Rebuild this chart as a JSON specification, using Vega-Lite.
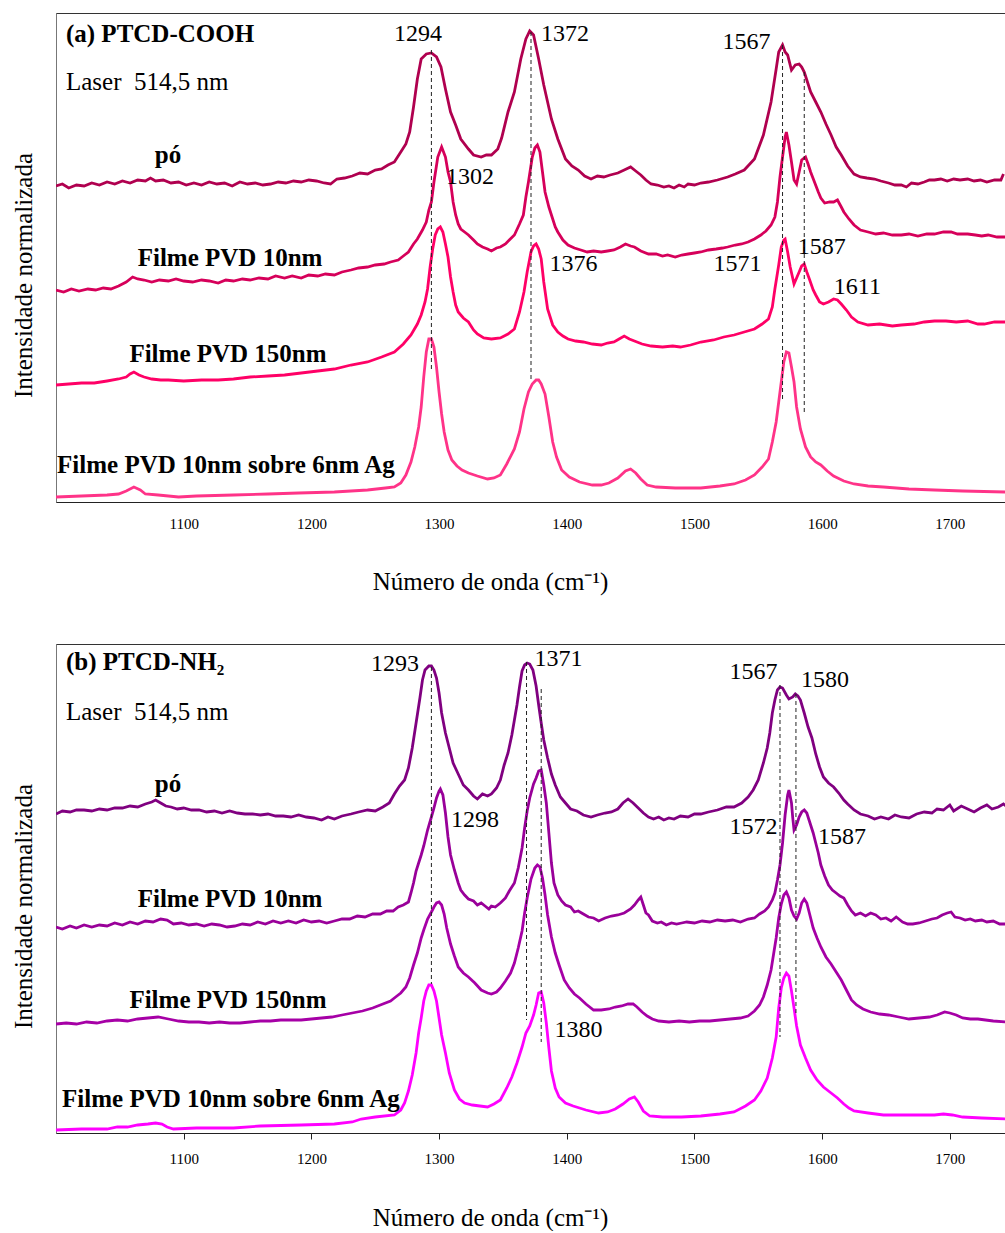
{
"$schema":"https://vega.github.io/schema/vega-lite/v6.json",
"padding":{"left":10,"top":12,"right":0,"bottom":0},
"background":"white",
"config":{"view":{"stroke":"#333","strokeWidth":1},"text":{"font":"Liberation Serif","color":"black"}},
"resolve":{"scale":{"color":"independent","x":"independent","y":"independent"}},
"spacing":48,
"datasets":{
"a":[
{"s":"pó","w":1000,"i":316},{"s":"pó","w":1005,"i":318},{"s":"pó","w":1010,"i":314},{"s":"pó","w":1016,"i":317},{"s":"pó","w":1022,"i":316},{"s":"pó","w":1028,"i":319},{"s":"pó","w":1034,"i":317},{"s":"pó","w":1040,"i":320},{"s":"pó","w":1046,"i":318},{"s":"pó","w":1052,"i":321},{"s":"pó","w":1058,"i":319},{"s":"pó","w":1064,"i":322},{"s":"pó","w":1070,"i":321},{"s":"pó","w":1074,"i":324},{"s":"pó","w":1078,"i":321},{"s":"pó","w":1084,"i":322},{"s":"pó","w":1090,"i":319},{"s":"pó","w":1096,"i":320},{"s":"pó","w":1102,"i":317},{"s":"pó","w":1108,"i":319},{"s":"pó","w":1114,"i":317},{"s":"pó","w":1120,"i":320},{"s":"pó","w":1126,"i":318},{"s":"pó","w":1132,"i":319},{"s":"pó","w":1138,"i":316},{"s":"pó","w":1144,"i":320},{"s":"pó","w":1150,"i":318},{"s":"pó","w":1156,"i":319},{"s":"pó","w":1162,"i":317},{"s":"pó","w":1168,"i":318},{"s":"pó","w":1174,"i":320},{"s":"pó","w":1180,"i":319},{"s":"pó","w":1186,"i":321},{"s":"pó","w":1192,"i":320},{"s":"pó","w":1198,"i":322},{"s":"pó","w":1204,"i":321},{"s":"pó","w":1210,"i":319},{"s":"pó","w":1215,"i":318},{"s":"pó","w":1220,"i":323},{"s":"pó","w":1226,"i":324},{"s":"pó","w":1232,"i":326},{"s":"pó","w":1238,"i":329},{"s":"pó","w":1244,"i":328},{"s":"pó","w":1250,"i":332},{"s":"pó","w":1255,"i":333},{"s":"pó","w":1260,"i":337},{"s":"pó","w":1265,"i":340},{"s":"pó","w":1270,"i":350},{"s":"pó","w":1274,"i":358},{"s":"pó","w":1277,"i":370},{"s":"pó","w":1280,"i":395},{"s":"pó","w":1283,"i":423},{"s":"pó","w":1286,"i":443},{"s":"pó","w":1290,"i":448},{"s":"pó","w":1294,"i":449},{"s":"pó","w":1298,"i":445},{"s":"pó","w":1301.5,"i":435},{"s":"pó","w":1305,"i":413},{"s":"pó","w":1309,"i":390},{"s":"pó","w":1313,"i":377},{"s":"pó","w":1317,"i":363},{"s":"pó","w":1323,"i":353},{"s":"pó","w":1327,"i":347},{"s":"pó","w":1333,"i":345},{"s":"pó","w":1337,"i":347},{"s":"pó","w":1341,"i":347},{"s":"pó","w":1346,"i":353},{"s":"pó","w":1349,"i":364},{"s":"pó","w":1354,"i":390},{"s":"pó","w":1359,"i":410},{"s":"pó","w":1364,"i":443},{"s":"pó","w":1368,"i":463},{"s":"pó","w":1371,"i":471},{"s":"pó","w":1374,"i":467},{"s":"pó","w":1378,"i":443},{"s":"pó","w":1382,"i":417},{"s":"pó","w":1388,"i":383},{"s":"pó","w":1393,"i":363},{"s":"pó","w":1399,"i":343},{"s":"pó","w":1404,"i":336},{"s":"pó","w":1409,"i":332},{"s":"pó","w":1414,"i":326},{"s":"pó","w":1419,"i":323},{"s":"pó","w":1424,"i":326},{"s":"pó","w":1429,"i":325},{"s":"pó","w":1434,"i":327},{"s":"pó","w":1440,"i":329},{"s":"pó","w":1445,"i":332},{"s":"pó","w":1450,"i":335},{"s":"pó","w":1454,"i":331},{"s":"pó","w":1458,"i":327},{"s":"pó","w":1462,"i":322},{"s":"pó","w":1466,"i":318},{"s":"pó","w":1471,"i":317},{"s":"pó","w":1476,"i":315},{"s":"pó","w":1480,"i":316},{"s":"pó","w":1484,"i":314},{"s":"pó","w":1488,"i":317},{"s":"pó","w":1492,"i":315},{"s":"pó","w":1495,"i":318},{"s":"pó","w":1500,"i":317},{"s":"pó","w":1505,"i":319},{"s":"pó","w":1511,"i":320},{"s":"pó","w":1518,"i":322},{"s":"pó","w":1526,"i":325},{"s":"pó","w":1532,"i":328},{"s":"pó","w":1539,"i":332},{"s":"pó","w":1547,"i":343},{"s":"pó","w":1554,"i":367},{"s":"pó","w":1560,"i":400},{"s":"pó","w":1564,"i":433},{"s":"pó","w":1566,"i":450},{"s":"pó","w":1569,"i":457},{"s":"pó","w":1571,"i":450},{"s":"pó","w":1573,"i":447},{"s":"pó","w":1576,"i":432},{"s":"pó","w":1579,"i":437},{"s":"pó","w":1582,"i":438},{"s":"pó","w":1584,"i":435},{"s":"pó","w":1586,"i":430},{"s":"pó","w":1588,"i":422},{"s":"pó","w":1591,"i":410},{"s":"pó","w":1595,"i":400},{"s":"pó","w":1599,"i":390},{"s":"pó","w":1603,"i":378},{"s":"pó","w":1607,"i":367},{"s":"pó","w":1611,"i":355},{"s":"pó","w":1615,"i":347},{"s":"pó","w":1620,"i":336},{"s":"pó","w":1625,"i":328},{"s":"pó","w":1630,"i":325},{"s":"pó","w":1635,"i":324},{"s":"pó","w":1641,"i":323},{"s":"pó","w":1646,"i":321},{"s":"pó","w":1652,"i":319},{"s":"pó","w":1657,"i":317},{"s":"pó","w":1662,"i":317},{"s":"pó","w":1666,"i":315},{"s":"pó","w":1670,"i":319},{"s":"pó","w":1675,"i":318},{"s":"pó","w":1680,"i":320},{"s":"pó","w":1684,"i":322},{"s":"pó","w":1688,"i":322},{"s":"pó","w":1693,"i":323},{"s":"pó","w":1698,"i":321},{"s":"pó","w":1703,"i":323},{"s":"pó","w":1708,"i":322},{"s":"pó","w":1714,"i":323},{"s":"pó","w":1719,"i":321},{"s":"pó","w":1724,"i":322},{"s":"pó","w":1729,"i":320},{"s":"pó","w":1735,"i":322},{"s":"pó","w":1740,"i":322},{"s":"pó","w":1742,"i":328},
{"s":"10nm","w":1000,"i":212},{"s":"10nm","w":1006,"i":210},{"s":"10nm","w":1012,"i":213},{"s":"10nm","w":1018,"i":211},{"s":"10nm","w":1025,"i":213},{"s":"10nm","w":1031,"i":212},{"s":"10nm","w":1037,"i":214},{"s":"10nm","w":1043,"i":213},{"s":"10nm","w":1049,"i":216},{"s":"10nm","w":1055,"i":220},{"s":"10nm","w":1060,"i":225},{"s":"10nm","w":1064,"i":223},{"s":"10nm","w":1069,"i":222},{"s":"10nm","w":1075,"i":220},{"s":"10nm","w":1081,"i":222},{"s":"10nm","w":1088,"i":221},{"s":"10nm","w":1094,"i":223},{"s":"10nm","w":1100,"i":221},{"s":"10nm","w":1107,"i":220},{"s":"10nm","w":1114,"i":222},{"s":"10nm","w":1120,"i":221},{"s":"10nm","w":1127,"i":219},{"s":"10nm","w":1133,"i":222},{"s":"10nm","w":1139,"i":221},{"s":"10nm","w":1146,"i":223},{"s":"10nm","w":1152,"i":222},{"s":"10nm","w":1159,"i":224},{"s":"10nm","w":1166,"i":223},{"s":"10nm","w":1172,"i":226},{"s":"10nm","w":1179,"i":224},{"s":"10nm","w":1185,"i":226},{"s":"10nm","w":1192,"i":224},{"s":"10nm","w":1198,"i":227},{"s":"10nm","w":1205,"i":226},{"s":"10nm","w":1211,"i":228},{"s":"10nm","w":1218,"i":227},{"s":"10nm","w":1224,"i":230},{"s":"10nm","w":1231,"i":232},{"s":"10nm","w":1237,"i":234},{"s":"10nm","w":1244,"i":235},{"s":"10nm","w":1250,"i":237},{"s":"10nm","w":1257,"i":238},{"s":"10nm","w":1262,"i":240},{"s":"10nm","w":1268,"i":242},{"s":"10nm","w":1272,"i":246},{"s":"10nm","w":1276,"i":250},{"s":"10nm","w":1280,"i":258},{"s":"10nm","w":1283,"i":263},{"s":"10nm","w":1287,"i":272},{"s":"10nm","w":1290,"i":280},{"s":"10nm","w":1292,"i":292},{"s":"10nm","w":1294,"i":300},{"s":"10nm","w":1296,"i":320},{"s":"10nm","w":1299,"i":345},{"s":"10nm","w":1302,"i":355},{"s":"10nm","w":1305,"i":345},{"s":"10nm","w":1307,"i":330},{"s":"10nm","w":1309,"i":320},{"s":"10nm","w":1311,"i":300},{"s":"10nm","w":1313,"i":287},{"s":"10nm","w":1315,"i":278},{"s":"10nm","w":1317,"i":273},{"s":"10nm","w":1320,"i":270},{"s":"10nm","w":1323,"i":267},{"s":"10nm","w":1327,"i":262},{"s":"10nm","w":1330,"i":258},{"s":"10nm","w":1334,"i":255},{"s":"10nm","w":1338,"i":253},{"s":"10nm","w":1341,"i":251},{"s":"10nm","w":1345,"i":254},{"s":"10nm","w":1348,"i":255},{"s":"10nm","w":1352,"i":258},{"s":"10nm","w":1355,"i":262},{"s":"10nm","w":1359,"i":267},{"s":"10nm","w":1363,"i":278},{"s":"10nm","w":1366,"i":287},{"s":"10nm","w":1368,"i":305},{"s":"10nm","w":1370,"i":320},{"s":"10nm","w":1373,"i":345},{"s":"10nm","w":1375,"i":354},{"s":"10nm","w":1377,"i":357},{"s":"10nm","w":1379,"i":350},{"s":"10nm","w":1381,"i":330},{"s":"10nm","w":1383,"i":310},{"s":"10nm","w":1386,"i":295},{"s":"10nm","w":1388,"i":287},{"s":"10nm","w":1391,"i":275},{"s":"10nm","w":1393,"i":270},{"s":"10nm","w":1397,"i":262},{"s":"10nm","w":1401,"i":257},{"s":"10nm","w":1406,"i":254},{"s":"10nm","w":1411,"i":252},{"s":"10nm","w":1416,"i":250},{"s":"10nm","w":1421,"i":251},{"s":"10nm","w":1427,"i":250},{"s":"10nm","w":1432,"i":251},{"s":"10nm","w":1437,"i":252},{"s":"10nm","w":1442,"i":255},{"s":"10nm","w":1446,"i":258},{"s":"10nm","w":1450,"i":256},{"s":"10nm","w":1453,"i":255},{"s":"10nm","w":1458,"i":251},{"s":"10nm","w":1464,"i":248},{"s":"10nm","w":1470,"i":248},{"s":"10nm","w":1475,"i":246},{"s":"10nm","w":1479,"i":247},{"s":"10nm","w":1485,"i":245},{"s":"10nm","w":1490,"i":247},{"s":"10nm","w":1495,"i":248},{"s":"10nm","w":1500,"i":249},{"s":"10nm","w":1505,"i":250},{"s":"10nm","w":1511,"i":252},{"s":"10nm","w":1517,"i":253},{"s":"10nm","w":1522,"i":254},{"s":"10nm","w":1526,"i":255},{"s":"10nm","w":1532,"i":257},{"s":"10nm","w":1537,"i":258},{"s":"10nm","w":1542,"i":260},{"s":"10nm","w":1547,"i":263},{"s":"10nm","w":1552,"i":267},{"s":"10nm","w":1556,"i":271},{"s":"10nm","w":1560,"i":277},{"s":"10nm","w":1563,"i":285},{"s":"10nm","w":1565,"i":300},{"s":"10nm","w":1567,"i":325},{"s":"10nm","w":1569,"i":345},{"s":"10nm","w":1571,"i":365},{"s":"10nm","w":1572,"i":370},{"s":"10nm","w":1574,"i":357},{"s":"10nm","w":1576,"i":340},{"s":"10nm","w":1578,"i":322},{"s":"10nm","w":1580,"i":318},{"s":"10nm","w":1582,"i":330},{"s":"10nm","w":1584,"i":342},{"s":"10nm","w":1587,"i":345},{"s":"10nm","w":1589,"i":338},{"s":"10nm","w":1591,"i":330},{"s":"10nm","w":1594,"i":320},{"s":"10nm","w":1597,"i":310},{"s":"10nm","w":1599,"i":304},{"s":"10nm","w":1602,"i":299},{"s":"10nm","w":1606,"i":300},{"s":"10nm","w":1609,"i":300},{"s":"10nm","w":1612,"i":302},{"s":"10nm","w":1615,"i":295},{"s":"10nm","w":1617,"i":290},{"s":"10nm","w":1621,"i":283},{"s":"10nm","w":1625,"i":277},{"s":"10nm","w":1630,"i":272},{"s":"10nm","w":1636,"i":270},{"s":"10nm","w":1642,"i":268},{"s":"10nm","w":1648,"i":269},{"s":"10nm","w":1655,"i":267},{"s":"10nm","w":1662,"i":267},{"s":"10nm","w":1668,"i":268},{"s":"10nm","w":1675,"i":266},{"s":"10nm","w":1682,"i":268},{"s":"10nm","w":1688,"i":268},{"s":"10nm","w":1695,"i":270},{"s":"10nm","w":1701,"i":270},{"s":"10nm","w":1706,"i":268},{"s":"10nm","w":1714,"i":268},{"s":"10nm","w":1720,"i":267},{"s":"10nm","w":1725,"i":266},{"s":"10nm","w":1730,"i":267},{"s":"10nm","w":1737,"i":265},{"s":"10nm","w":1744,"i":265},
{"s":"150nm","w":1000,"i":117},{"s":"150nm","w":1010,"i":118},{"s":"150nm","w":1020,"i":119},{"s":"150nm","w":1030,"i":119},{"s":"150nm","w":1040,"i":121},{"s":"150nm","w":1049,"i":123},{"s":"150nm","w":1055,"i":125},{"s":"150nm","w":1058,"i":128},{"s":"150nm","w":1061,"i":130},{"s":"150nm","w":1065,"i":127},{"s":"150nm","w":1069,"i":125},{"s":"150nm","w":1075,"i":123},{"s":"150nm","w":1082,"i":122},{"s":"150nm","w":1088,"i":122},{"s":"150nm","w":1100,"i":121},{"s":"150nm","w":1114,"i":122},{"s":"150nm","w":1127,"i":122},{"s":"150nm","w":1139,"i":123},{"s":"150nm","w":1152,"i":125},{"s":"150nm","w":1166,"i":126},{"s":"150nm","w":1179,"i":127},{"s":"150nm","w":1192,"i":129},{"s":"150nm","w":1205,"i":131},{"s":"150nm","w":1218,"i":133},{"s":"150nm","w":1231,"i":137},{"s":"150nm","w":1244,"i":140},{"s":"150nm","w":1255,"i":145},{"s":"150nm","w":1265,"i":150},{"s":"150nm","w":1272,"i":158},{"s":"150nm","w":1278,"i":167},{"s":"150nm","w":1283,"i":178},{"s":"150nm","w":1286,"i":187},{"s":"150nm","w":1289,"i":200},{"s":"150nm","w":1291,"i":213},{"s":"150nm","w":1293,"i":235},{"s":"150nm","w":1295,"i":253},{"s":"150nm","w":1297,"i":267},{"s":"150nm","w":1299,"i":273},{"s":"150nm","w":1301,"i":275},{"s":"150nm","w":1303,"i":270},{"s":"150nm","w":1305,"i":258},{"s":"150nm","w":1307,"i":245},{"s":"150nm","w":1309,"i":225},{"s":"150nm","w":1311,"i":210},{"s":"150nm","w":1313,"i":197},{"s":"150nm","w":1315,"i":190},{"s":"150nm","w":1319,"i":184},{"s":"150nm","w":1323,"i":180},{"s":"150nm","w":1327,"i":172},{"s":"150nm","w":1330,"i":168},{"s":"150nm","w":1335,"i":164},{"s":"150nm","w":1341,"i":163},{"s":"150nm","w":1348,"i":164},{"s":"150nm","w":1354,"i":168},{"s":"150nm","w":1359,"i":173},{"s":"150nm","w":1363,"i":190},{"s":"150nm","w":1366.5,"i":210},{"s":"150nm","w":1369,"i":230},{"s":"150nm","w":1372,"i":250},{"s":"150nm","w":1374,"i":256},{"s":"150nm","w":1376,"i":258},{"s":"150nm","w":1378,"i":253},{"s":"150nm","w":1380,"i":243},{"s":"150nm","w":1382,"i":220},{"s":"150nm","w":1385,"i":193},{"s":"150nm","w":1389,"i":177},{"s":"150nm","w":1393,"i":170},{"s":"150nm","w":1397,"i":166},{"s":"150nm","w":1401,"i":163},{"s":"150nm","w":1407,"i":161},{"s":"150nm","w":1413,"i":160},{"s":"150nm","w":1420,"i":158},{"s":"150nm","w":1427,"i":157},{"s":"150nm","w":1432,"i":159},{"s":"150nm","w":1437,"i":160},{"s":"150nm","w":1441,"i":163},{"s":"150nm","w":1445,"i":166},{"s":"150nm","w":1449,"i":163},{"s":"150nm","w":1453,"i":161},{"s":"150nm","w":1459,"i":158},{"s":"150nm","w":1466,"i":156},{"s":"150nm","w":1475,"i":155},{"s":"150nm","w":1483,"i":156},{"s":"150nm","w":1489,"i":155},{"s":"150nm","w":1497,"i":157},{"s":"150nm","w":1505,"i":160},{"s":"150nm","w":1515,"i":162},{"s":"150nm","w":1523,"i":165},{"s":"150nm","w":1531,"i":167},{"s":"150nm","w":1539,"i":170},{"s":"150nm","w":1547,"i":173},{"s":"150nm","w":1553,"i":178},{"s":"150nm","w":1558,"i":183},{"s":"150nm","w":1561,"i":195},{"s":"150nm","w":1563,"i":213},{"s":"150nm","w":1566,"i":237},{"s":"150nm","w":1568,"i":255},{"s":"150nm","w":1570,"i":262},{"s":"150nm","w":1571,"i":263},{"s":"150nm","w":1573,"i":250},{"s":"150nm","w":1575,"i":235},{"s":"150nm","w":1578,"i":218},{"s":"150nm","w":1580,"i":224},{"s":"150nm","w":1582,"i":230},{"s":"150nm","w":1584,"i":236},{"s":"150nm","w":1586,"i":238},{"s":"150nm","w":1588,"i":230},{"s":"150nm","w":1590,"i":223},{"s":"150nm","w":1593,"i":212},{"s":"150nm","w":1595,"i":207},{"s":"150nm","w":1598,"i":200},{"s":"150nm","w":1601,"i":198},{"s":"150nm","w":1605,"i":200},{"s":"150nm","w":1609,"i":203},{"s":"150nm","w":1612,"i":202},{"s":"150nm","w":1615,"i":198},{"s":"150nm","w":1619,"i":192},{"s":"150nm","w":1623,"i":185},{"s":"150nm","w":1628,"i":180},{"s":"150nm","w":1636,"i":177},{"s":"150nm","w":1645,"i":178},{"s":"150nm","w":1655,"i":176},{"s":"150nm","w":1662,"i":177},{"s":"150nm","w":1672,"i":178},{"s":"150nm","w":1680,"i":180},{"s":"150nm","w":1688,"i":181},{"s":"150nm","w":1697,"i":181},{"s":"150nm","w":1705,"i":180},{"s":"150nm","w":1714,"i":181},{"s":"150nm","w":1722,"i":178},{"s":"150nm","w":1727,"i":178},{"s":"150nm","w":1735,"i":180},{"s":"150nm","w":1744,"i":180},
{"s":"Ag","w":1000,"i":5},{"s":"Ag","w":1020,"i":6},{"s":"Ag","w":1040,"i":7},{"s":"Ag","w":1049,"i":8},{"s":"Ag","w":1055,"i":11},{"s":"Ag","w":1061,"i":15},{"s":"Ag","w":1066,"i":12},{"s":"Ag","w":1070,"i":8},{"s":"Ag","w":1080,"i":7},{"s":"Ag","w":1096,"i":5},{"s":"Ag","w":1110,"i":6},{"s":"Ag","w":1139,"i":7},{"s":"Ag","w":1166,"i":8},{"s":"Ag","w":1190,"i":9},{"s":"Ag","w":1218,"i":10},{"s":"Ag","w":1244,"i":12},{"s":"Ag","w":1258,"i":14},{"s":"Ag","w":1265,"i":15},{"s":"Ag","w":1270,"i":19},{"s":"Ag","w":1274,"i":27},{"s":"Ag","w":1278,"i":40},{"s":"Ag","w":1281,"i":55},{"s":"Ag","w":1284,"i":75},{"s":"Ag","w":1286,"i":95},{"s":"Ag","w":1288,"i":125},{"s":"Ag","w":1290,"i":150},{"s":"Ag","w":1292,"i":163},{"s":"Ag","w":1294,"i":163},{"s":"Ag","w":1296,"i":155},{"s":"Ag","w":1298,"i":135},{"s":"Ag","w":1300,"i":110},{"s":"Ag","w":1302,"i":88},{"s":"Ag","w":1304,"i":70},{"s":"Ag","w":1307,"i":52},{"s":"Ag","w":1310,"i":42},{"s":"Ag","w":1314,"i":36},{"s":"Ag","w":1318,"i":32},{"s":"Ag","w":1323,"i":29},{"s":"Ag","w":1330,"i":26},{"s":"Ag","w":1338,"i":23},{"s":"Ag","w":1343,"i":24},{"s":"Ag","w":1348,"i":27},{"s":"Ag","w":1353,"i":38},{"s":"Ag","w":1359,"i":53},{"s":"Ag","w":1363,"i":70},{"s":"Ag","w":1366.5,"i":93},{"s":"Ag","w":1370,"i":110},{"s":"Ag","w":1373,"i":118},{"s":"Ag","w":1376,"i":122},{"s":"Ag","w":1378,"i":122},{"s":"Ag","w":1380,"i":118},{"s":"Ag","w":1383,"i":108},{"s":"Ag","w":1386,"i":85},{"s":"Ag","w":1389,"i":60},{"s":"Ag","w":1392,"i":45},{"s":"Ag","w":1396,"i":32},{"s":"Ag","w":1402,"i":25},{"s":"Ag","w":1410,"i":20},{"s":"Ag","w":1420,"i":17},{"s":"Ag","w":1427,"i":17},{"s":"Ag","w":1433,"i":19},{"s":"Ag","w":1440,"i":24},{"s":"Ag","w":1446,"i":31},{"s":"Ag","w":1450,"i":33},{"s":"Ag","w":1454,"i":29},{"s":"Ag","w":1458,"i":23},{"s":"Ag","w":1463,"i":17},{"s":"Ag","w":1470,"i":15},{"s":"Ag","w":1485,"i":14},{"s":"Ag","w":1505,"i":14},{"s":"Ag","w":1520,"i":16},{"s":"Ag","w":1531,"i":18},{"s":"Ag","w":1540,"i":22},{"s":"Ag","w":1547,"i":27},{"s":"Ag","w":1553,"i":35},{"s":"Ag","w":1558,"i":43},{"s":"Ag","w":1561,"i":60},{"s":"Ag","w":1564,"i":80},{"s":"Ag","w":1566,"i":100},{"s":"Ag","w":1568,"i":120},{"s":"Ag","w":1570,"i":140},{"s":"Ag","w":1572,"i":150},{"s":"Ag","w":1574,"i":149},{"s":"Ag","w":1576,"i":135},{"s":"Ag","w":1578,"i":120},{"s":"Ag","w":1580,"i":95},{"s":"Ag","w":1583,"i":73},{"s":"Ag","w":1587,"i":55},{"s":"Ag","w":1591,"i":45},{"s":"Ag","w":1595,"i":40},{"s":"Ag","w":1599,"i":37},{"s":"Ag","w":1604,"i":31},{"s":"Ag","w":1609,"i":26},{"s":"Ag","w":1617,"i":21},{"s":"Ag","w":1625,"i":18},{"s":"Ag","w":1636,"i":16},{"s":"Ag","w":1648,"i":15},{"s":"Ag","w":1668,"i":13},{"s":"Ag","w":1688,"i":12},{"s":"Ag","w":1710,"i":11},{"s":"Ag","w":1744,"i":10}
],
"b":[
{"s":"pó","w":1000,"i":319},{"s":"pó","w":1005,"i":322},{"s":"pó","w":1011,"i":321},{"s":"pó","w":1016,"i":323},{"s":"pó","w":1022,"i":323},{"s":"pó","w":1028,"i":322},{"s":"pó","w":1034,"i":324},{"s":"pó","w":1040,"i":323},{"s":"pó","w":1046,"i":325},{"s":"pó","w":1052,"i":325},{"s":"pó","w":1058,"i":327},{"s":"pó","w":1064,"i":326},{"s":"pó","w":1070,"i":329},{"s":"pó","w":1075,"i":331},{"s":"pó","w":1078,"i":333},{"s":"pó","w":1082,"i":330},{"s":"pó","w":1086,"i":327},{"s":"pó","w":1090,"i":326},{"s":"pó","w":1095,"i":324},{"s":"pó","w":1100,"i":325},{"s":"pó","w":1106,"i":323},{"s":"pó","w":1112,"i":323},{"s":"pó","w":1118,"i":321},{"s":"pó","w":1124,"i":322},{"s":"pó","w":1130,"i":320},{"s":"pó","w":1136,"i":322},{"s":"pó","w":1142,"i":320},{"s":"pó","w":1148,"i":319},{"s":"pó","w":1154,"i":319},{"s":"pó","w":1160,"i":318},{"s":"pó","w":1166,"i":319},{"s":"pó","w":1172,"i":317},{"s":"pó","w":1178,"i":317},{"s":"pó","w":1184,"i":316},{"s":"pó","w":1190,"i":318},{"s":"pó","w":1196,"i":316},{"s":"pó","w":1202,"i":315},{"s":"pó","w":1208,"i":313},{"s":"pó","w":1213,"i":316},{"s":"pó","w":1218,"i":314},{"s":"pó","w":1224,"i":317},{"s":"pó","w":1231,"i":319},{"s":"pó","w":1237,"i":321},{"s":"pó","w":1244,"i":323},{"s":"pó","w":1250,"i":322},{"s":"pó","w":1256,"i":326},{"s":"pó","w":1261,"i":330},{"s":"pó","w":1265,"i":339},{"s":"pó","w":1269,"i":347},{"s":"pó","w":1273,"i":353},{"s":"pó","w":1276,"i":365},{"s":"pó","w":1279,"i":385},{"s":"pó","w":1282,"i":410},{"s":"pó","w":1285,"i":435},{"s":"pó","w":1287,"i":453},{"s":"pó","w":1289,"i":463},{"s":"pó","w":1292,"i":467},{"s":"pó","w":1294,"i":467},{"s":"pó","w":1296,"i":463},{"s":"pó","w":1298,"i":455},{"s":"pó","w":1300,"i":440},{"s":"pó","w":1302,"i":420},{"s":"pó","w":1305,"i":400},{"s":"pó","w":1308,"i":385},{"s":"pó","w":1311,"i":370},{"s":"pó","w":1315,"i":359},{"s":"pó","w":1319,"i":348},{"s":"pó","w":1323,"i":343},{"s":"pó","w":1327,"i":337},{"s":"pó","w":1330,"i":334},{"s":"pó","w":1334,"i":339},{"s":"pó","w":1338,"i":337},{"s":"pó","w":1341,"i":339},{"s":"pó","w":1345,"i":345},{"s":"pó","w":1348,"i":353},{"s":"pó","w":1351,"i":368},{"s":"pó","w":1354,"i":380},{"s":"pó","w":1357,"i":398},{"s":"pó","w":1359,"i":413},{"s":"pó","w":1361,"i":428},{"s":"pó","w":1363,"i":446},{"s":"pó","w":1365,"i":462},{"s":"pó","w":1367,"i":468},{"s":"pó","w":1369,"i":470},{"s":"pó","w":1371,"i":469},{"s":"pó","w":1373.5,"i":463},{"s":"pó","w":1376,"i":447},{"s":"pó","w":1378,"i":428},{"s":"pó","w":1380,"i":410},{"s":"pó","w":1382,"i":393},{"s":"pó","w":1385,"i":375},{"s":"pó","w":1388,"i":359},{"s":"pó","w":1391,"i":348},{"s":"pó","w":1395,"i":336},{"s":"pó","w":1399,"i":330},{"s":"pó","w":1403,"i":324},{"s":"pó","w":1408,"i":322},{"s":"pó","w":1413,"i":318},{"s":"pó","w":1419,"i":316},{"s":"pó","w":1424,"i":318},{"s":"pó","w":1430,"i":320},{"s":"pó","w":1435,"i":321},{"s":"pó","w":1440,"i":324},{"s":"pó","w":1444,"i":330},{"s":"pó","w":1448,"i":334},{"s":"pó","w":1452,"i":330},{"s":"pó","w":1456,"i":325},{"s":"pó","w":1460,"i":320},{"s":"pó","w":1464,"i":316},{"s":"pó","w":1468,"i":314},{"s":"pó","w":1472,"i":316},{"s":"pó","w":1476,"i":313},{"s":"pó","w":1480,"i":315},{"s":"pó","w":1484,"i":314},{"s":"pó","w":1489,"i":317},{"s":"pó","w":1495,"i":316},{"s":"pó","w":1500,"i":319},{"s":"pó","w":1505,"i":319},{"s":"pó","w":1511,"i":321},{"s":"pó","w":1518,"i":323},{"s":"pó","w":1525,"i":326},{"s":"pó","w":1531,"i":326},{"s":"pó","w":1537,"i":330},{"s":"pó","w":1542,"i":336},{"s":"pó","w":1546,"i":343},{"s":"pó","w":1550,"i":353},{"s":"pó","w":1554,"i":370},{"s":"pó","w":1557,"i":385},{"s":"pó","w":1559,"i":400},{"s":"pó","w":1561,"i":420},{"s":"pó","w":1563,"i":433},{"s":"pó","w":1565,"i":443},{"s":"pó","w":1567,"i":446},{"s":"pó","w":1569,"i":445},{"s":"pó","w":1572,"i":438},{"s":"pó","w":1574,"i":434},{"s":"pó","w":1577,"i":436},{"s":"pó","w":1579,"i":439},{"s":"pó","w":1581,"i":437},{"s":"pó","w":1583,"i":433},{"s":"pó","w":1586,"i":420},{"s":"pó","w":1589,"i":406},{"s":"pó","w":1592,"i":395},{"s":"pó","w":1595,"i":379},{"s":"pó","w":1598,"i":366},{"s":"pó","w":1601,"i":356},{"s":"pó","w":1605,"i":350},{"s":"pó","w":1609,"i":346},{"s":"pó","w":1613,"i":340},{"s":"pó","w":1617,"i":333},{"s":"pó","w":1620,"i":329},{"s":"pó","w":1625,"i":323},{"s":"pó","w":1630,"i":319},{"s":"pó","w":1636,"i":317},{"s":"pó","w":1641,"i":314},{"s":"pó","w":1646,"i":316},{"s":"pó","w":1652,"i":314},{"s":"pó","w":1657,"i":318},{"s":"pó","w":1662,"i":316},{"s":"pó","w":1668,"i":315},{"s":"pó","w":1674,"i":319},{"s":"pó","w":1680,"i":321},{"s":"pó","w":1686,"i":320},{"s":"pó","w":1690,"i":324},{"s":"pó","w":1695,"i":323},{"s":"pó","w":1700,"i":328},{"s":"pó","w":1703,"i":322},{"s":"pó","w":1709,"i":327},{"s":"pó","w":1714,"i":324},{"s":"pó","w":1719,"i":321},{"s":"pó","w":1724,"i":325},{"s":"pó","w":1729,"i":328},{"s":"pó","w":1733,"i":324},{"s":"pó","w":1738,"i":326},{"s":"pó","w":1742,"i":329},{"s":"pó","w":1744,"i":327},
{"s":"10nm","w":1000,"i":206},{"s":"10nm","w":1005,"i":204},{"s":"10nm","w":1011,"i":207},{"s":"10nm","w":1016,"i":205},{"s":"10nm","w":1022,"i":208},{"s":"10nm","w":1028,"i":206},{"s":"10nm","w":1034,"i":208},{"s":"10nm","w":1040,"i":207},{"s":"10nm","w":1046,"i":210},{"s":"10nm","w":1052,"i":208},{"s":"10nm","w":1058,"i":211},{"s":"10nm","w":1064,"i":209},{"s":"10nm","w":1070,"i":212},{"s":"10nm","w":1076,"i":211},{"s":"10nm","w":1082,"i":214},{"s":"10nm","w":1087,"i":213},{"s":"10nm","w":1092,"i":209},{"s":"10nm","w":1098,"i":210},{"s":"10nm","w":1104,"i":208},{"s":"10nm","w":1110,"i":209},{"s":"10nm","w":1116,"i":207},{"s":"10nm","w":1122,"i":209},{"s":"10nm","w":1128,"i":208},{"s":"10nm","w":1134,"i":206},{"s":"10nm","w":1140,"i":207},{"s":"10nm","w":1146,"i":209},{"s":"10nm","w":1152,"i":208},{"s":"10nm","w":1158,"i":211},{"s":"10nm","w":1164,"i":209},{"s":"10nm","w":1170,"i":212},{"s":"10nm","w":1176,"i":210},{"s":"10nm","w":1182,"i":212},{"s":"10nm","w":1188,"i":210},{"s":"10nm","w":1194,"i":213},{"s":"10nm","w":1200,"i":211},{"s":"10nm","w":1206,"i":212},{"s":"10nm","w":1212,"i":210},{"s":"10nm","w":1218,"i":212},{"s":"10nm","w":1224,"i":214},{"s":"10nm","w":1230,"i":214},{"s":"10nm","w":1236,"i":217},{"s":"10nm","w":1242,"i":216},{"s":"10nm","w":1248,"i":219},{"s":"10nm","w":1254,"i":219},{"s":"10nm","w":1259,"i":222},{"s":"10nm","w":1264,"i":222},{"s":"10nm","w":1268,"i":226},{"s":"10nm","w":1272,"i":228},{"s":"10nm","w":1276,"i":231},{"s":"10nm","w":1278,"i":240},{"s":"10nm","w":1280,"i":250},{"s":"10nm","w":1282,"i":262},{"s":"10nm","w":1284,"i":270},{"s":"10nm","w":1286,"i":278},{"s":"10nm","w":1288,"i":287},{"s":"10nm","w":1291,"i":303},{"s":"10nm","w":1294,"i":316},{"s":"10nm","w":1296,"i":325},{"s":"10nm","w":1298,"i":335},{"s":"10nm","w":1300,"i":342},{"s":"10nm","w":1301,"i":344},{"s":"10nm","w":1303,"i":338},{"s":"10nm","w":1305,"i":320},{"s":"10nm","w":1307,"i":296},{"s":"10nm","w":1309,"i":278},{"s":"10nm","w":1312,"i":263},{"s":"10nm","w":1315,"i":250},{"s":"10nm","w":1317,"i":243},{"s":"10nm","w":1320,"i":238},{"s":"10nm","w":1323,"i":234},{"s":"10nm","w":1327,"i":232},{"s":"10nm","w":1330,"i":228},{"s":"10nm","w":1333,"i":230},{"s":"10nm","w":1336,"i":227},{"s":"10nm","w":1339,"i":224},{"s":"10nm","w":1341,"i":227},{"s":"10nm","w":1344,"i":226},{"s":"10nm","w":1348,"i":230},{"s":"10nm","w":1352,"i":235},{"s":"10nm","w":1355,"i":242},{"s":"10nm","w":1359,"i":250},{"s":"10nm","w":1362,"i":265},{"s":"10nm","w":1365,"i":285},{"s":"10nm","w":1367,"i":305},{"s":"10nm","w":1369,"i":322},{"s":"10nm","w":1371,"i":335},{"s":"10nm","w":1374,"i":349},{"s":"10nm","w":1376,"i":355},{"s":"10nm","w":1378,"i":362},{"s":"10nm","w":1380,"i":363},{"s":"10nm","w":1382,"i":348},{"s":"10nm","w":1384,"i":330},{"s":"10nm","w":1386,"i":300},{"s":"10nm","w":1388,"i":270},{"s":"10nm","w":1390,"i":250},{"s":"10nm","w":1393,"i":238},{"s":"10nm","w":1396,"i":232},{"s":"10nm","w":1399,"i":228},{"s":"10nm","w":1403,"i":226},{"s":"10nm","w":1406,"i":221},{"s":"10nm","w":1409,"i":222},{"s":"10nm","w":1413,"i":219},{"s":"10nm","w":1417,"i":216},{"s":"10nm","w":1421,"i":215},{"s":"10nm","w":1425,"i":212},{"s":"10nm","w":1430,"i":215},{"s":"10nm","w":1435,"i":217},{"s":"10nm","w":1440,"i":218},{"s":"10nm","w":1445,"i":220},{"s":"10nm","w":1450,"i":224},{"s":"10nm","w":1453,"i":228},{"s":"10nm","w":1456,"i":233},{"s":"10nm","w":1458,"i":236},{"s":"10nm","w":1460,"i":228},{"s":"10nm","w":1462,"i":220},{"s":"10nm","w":1464,"i":218},{"s":"10nm","w":1467,"i":212},{"s":"10nm","w":1471,"i":210},{"s":"10nm","w":1474,"i":211},{"s":"10nm","w":1478,"i":208},{"s":"10nm","w":1482,"i":210},{"s":"10nm","w":1486,"i":209},{"s":"10nm","w":1490,"i":210},{"s":"10nm","w":1494,"i":211},{"s":"10nm","w":1500,"i":210},{"s":"10nm","w":1506,"i":212},{"s":"10nm","w":1512,"i":211},{"s":"10nm","w":1518,"i":213},{"s":"10nm","w":1524,"i":212},{"s":"10nm","w":1530,"i":213},{"s":"10nm","w":1536,"i":211},{"s":"10nm","w":1542,"i":214},{"s":"10nm","w":1547,"i":215},{"s":"10nm","w":1551,"i":219},{"s":"10nm","w":1555,"i":222},{"s":"10nm","w":1558,"i":226},{"s":"10nm","w":1561,"i":233},{"s":"10nm","w":1563,"i":240},{"s":"10nm","w":1565,"i":253},{"s":"10nm","w":1567,"i":268},{"s":"10nm","w":1569,"i":290},{"s":"10nm","w":1571,"i":318},{"s":"10nm","w":1573,"i":338},{"s":"10nm","w":1574,"i":343},{"s":"10nm","w":1576,"i":330},{"s":"10nm","w":1577,"i":315},{"s":"10nm","w":1578,"i":303},{"s":"10nm","w":1580,"i":308},{"s":"10nm","w":1582,"i":316},{"s":"10nm","w":1584,"i":321},{"s":"10nm","w":1586,"i":323},{"s":"10nm","w":1588,"i":320},{"s":"10nm","w":1590,"i":312},{"s":"10nm","w":1593,"i":300},{"s":"10nm","w":1595,"i":290},{"s":"10nm","w":1597,"i":280},{"s":"10nm","w":1599,"i":268},{"s":"10nm","w":1602,"i":257},{"s":"10nm","w":1605,"i":248},{"s":"10nm","w":1608,"i":243},{"s":"10nm","w":1611,"i":240},{"s":"10nm","w":1614,"i":237},{"s":"10nm","w":1617,"i":235},{"s":"10nm","w":1620,"i":228},{"s":"10nm","w":1623,"i":222},{"s":"10nm","w":1626,"i":218},{"s":"10nm","w":1630,"i":220},{"s":"10nm","w":1634,"i":217},{"s":"10nm","w":1638,"i":220},{"s":"10nm","w":1642,"i":218},{"s":"10nm","w":1646,"i":214},{"s":"10nm","w":1650,"i":215},{"s":"10nm","w":1654,"i":212},{"s":"10nm","w":1658,"i":216},{"s":"10nm","w":1663,"i":211},{"s":"10nm","w":1667,"i":209},{"s":"10nm","w":1671,"i":209},{"s":"10nm","w":1676,"i":210},{"s":"10nm","w":1681,"i":212},{"s":"10nm","w":1686,"i":214},{"s":"10nm","w":1690,"i":215},{"s":"10nm","w":1694,"i":218},{"s":"10nm","w":1698,"i":220},{"s":"10nm","w":1701,"i":221},{"s":"10nm","w":1704,"i":216},{"s":"10nm","w":1708,"i":215},{"s":"10nm","w":1712,"i":213},{"s":"10nm","w":1716,"i":214},{"s":"10nm","w":1720,"i":212},{"s":"10nm","w":1725,"i":213},{"s":"10nm","w":1729,"i":211},{"s":"10nm","w":1734,"i":212},{"s":"10nm","w":1739,"i":209},{"s":"10nm","w":1744,"i":209},
{"s":"150nm","w":1000,"i":109},{"s":"150nm","w":1008,"i":110},{"s":"150nm","w":1016,"i":109},{"s":"150nm","w":1024,"i":111},{"s":"150nm","w":1032,"i":110},{"s":"150nm","w":1040,"i":112},{"s":"150nm","w":1048,"i":113},{"s":"150nm","w":1056,"i":112},{"s":"150nm","w":1064,"i":114},{"s":"150nm","w":1072,"i":115},{"s":"150nm","w":1080,"i":116},{"s":"150nm","w":1088,"i":114},{"s":"150nm","w":1096,"i":112},{"s":"150nm","w":1104,"i":111},{"s":"150nm","w":1112,"i":111},{"s":"150nm","w":1120,"i":110},{"s":"150nm","w":1128,"i":111},{"s":"150nm","w":1136,"i":110},{"s":"150nm","w":1144,"i":110},{"s":"150nm","w":1152,"i":111},{"s":"150nm","w":1160,"i":112},{"s":"150nm","w":1168,"i":112},{"s":"150nm","w":1176,"i":113},{"s":"150nm","w":1184,"i":113},{"s":"150nm","w":1192,"i":113},{"s":"150nm","w":1200,"i":114},{"s":"150nm","w":1208,"i":115},{"s":"150nm","w":1216,"i":116},{"s":"150nm","w":1224,"i":118},{"s":"150nm","w":1232,"i":120},{"s":"150nm","w":1240,"i":122},{"s":"150nm","w":1248,"i":125},{"s":"150nm","w":1256,"i":129},{"s":"150nm","w":1262,"i":132},{"s":"150nm","w":1266,"i":136},{"s":"150nm","w":1270,"i":140},{"s":"150nm","w":1274,"i":146},{"s":"150nm","w":1277,"i":155},{"s":"150nm","w":1280,"i":168},{"s":"150nm","w":1283,"i":180},{"s":"150nm","w":1286,"i":195},{"s":"150nm","w":1288,"i":203},{"s":"150nm","w":1291,"i":214},{"s":"150nm","w":1294,"i":221},{"s":"150nm","w":1296,"i":226},{"s":"150nm","w":1298,"i":230},{"s":"150nm","w":1300,"i":231},{"s":"150nm","w":1302,"i":228},{"s":"150nm","w":1304,"i":219},{"s":"150nm","w":1306,"i":205},{"s":"150nm","w":1309,"i":189},{"s":"150nm","w":1312,"i":177},{"s":"150nm","w":1315,"i":166},{"s":"150nm","w":1319,"i":160},{"s":"150nm","w":1323,"i":156},{"s":"150nm","w":1328,"i":150},{"s":"150nm","w":1333,"i":143},{"s":"150nm","w":1338,"i":140},{"s":"150nm","w":1341,"i":139},{"s":"150nm","w":1345,"i":141},{"s":"150nm","w":1348,"i":145},{"s":"150nm","w":1352,"i":152},{"s":"150nm","w":1356,"i":160},{"s":"150nm","w":1359,"i":170},{"s":"150nm","w":1362,"i":185},{"s":"150nm","w":1365,"i":202},{"s":"150nm","w":1367,"i":220},{"s":"150nm","w":1369,"i":235},{"s":"150nm","w":1372,"i":254},{"s":"150nm","w":1375,"i":265},{"s":"150nm","w":1377,"i":268},{"s":"150nm","w":1379,"i":266},{"s":"150nm","w":1381,"i":255},{"s":"150nm","w":1383,"i":238},{"s":"150nm","w":1385,"i":218},{"s":"150nm","w":1388,"i":196},{"s":"150nm","w":1391,"i":180},{"s":"150nm","w":1394,"i":168},{"s":"150nm","w":1398,"i":153},{"s":"150nm","w":1402,"i":145},{"s":"150nm","w":1406,"i":139},{"s":"150nm","w":1410,"i":135},{"s":"150nm","w":1415,"i":129},{"s":"150nm","w":1421,"i":123},{"s":"150nm","w":1427,"i":123},{"s":"150nm","w":1433,"i":124},{"s":"150nm","w":1438,"i":126},{"s":"150nm","w":1443,"i":127},{"s":"150nm","w":1448,"i":129},{"s":"150nm","w":1452,"i":129},{"s":"150nm","w":1455,"i":126},{"s":"150nm","w":1459,"i":121},{"s":"150nm","w":1463,"i":117},{"s":"150nm","w":1467,"i":114},{"s":"150nm","w":1472,"i":112},{"s":"150nm","w":1480,"i":111},{"s":"150nm","w":1488,"i":112},{"s":"150nm","w":1496,"i":111},{"s":"150nm","w":1504,"i":112},{"s":"150nm","w":1512,"i":112},{"s":"150nm","w":1520,"i":113},{"s":"150nm","w":1528,"i":114},{"s":"150nm","w":1536,"i":115},{"s":"150nm","w":1542,"i":117},{"s":"150nm","w":1547,"i":122},{"s":"150nm","w":1551,"i":128},{"s":"150nm","w":1554,"i":136},{"s":"150nm","w":1557,"i":148},{"s":"150nm","w":1560,"i":163},{"s":"150nm","w":1562,"i":179},{"s":"150nm","w":1564,"i":195},{"s":"150nm","w":1566,"i":215},{"s":"150nm","w":1568,"i":229},{"s":"150nm","w":1570,"i":238},{"s":"150nm","w":1572,"i":241},{"s":"150nm","w":1574,"i":235},{"s":"150nm","w":1576,"i":223},{"s":"150nm","w":1578,"i":217},{"s":"150nm","w":1580,"i":214},{"s":"150nm","w":1582,"i":220},{"s":"150nm","w":1584,"i":230},{"s":"150nm","w":1586,"i":234},{"s":"150nm","w":1588,"i":230},{"s":"150nm","w":1590,"i":220},{"s":"150nm","w":1593,"i":205},{"s":"150nm","w":1596,"i":195},{"s":"150nm","w":1599,"i":186},{"s":"150nm","w":1603,"i":176},{"s":"150nm","w":1607,"i":169},{"s":"150nm","w":1611,"i":161},{"s":"150nm","w":1615,"i":153},{"s":"150nm","w":1619,"i":143},{"s":"150nm","w":1623,"i":133},{"s":"150nm","w":1627,"i":128},{"s":"150nm","w":1632,"i":124},{"s":"150nm","w":1638,"i":121},{"s":"150nm","w":1645,"i":119},{"s":"150nm","w":1652,"i":118},{"s":"150nm","w":1660,"i":116},{"s":"150nm","w":1668,"i":114},{"s":"150nm","w":1676,"i":115},{"s":"150nm","w":1684,"i":116},{"s":"150nm","w":1690,"i":118},{"s":"150nm","w":1696,"i":121},{"s":"150nm","w":1700,"i":120},{"s":"150nm","w":1705,"i":118},{"s":"150nm","w":1710,"i":115},{"s":"150nm","w":1716,"i":114},{"s":"150nm","w":1722,"i":114},{"s":"150nm","w":1728,"i":113},{"s":"150nm","w":1734,"i":112},{"s":"150nm","w":1744,"i":111},
{"s":"Ag","w":1000,"i":3},{"s":"Ag","w":1020,"i":4},{"s":"Ag","w":1040,"i":4},{"s":"Ag","w":1048,"i":6},{"s":"Ag","w":1056,"i":6},{"s":"Ag","w":1064,"i":8},{"s":"Ag","w":1072,"i":9},{"s":"Ag","w":1078,"i":10},{"s":"Ag","w":1083,"i":9},{"s":"Ag","w":1087,"i":6},{"s":"Ag","w":1092,"i":4},{"s":"Ag","w":1110,"i":5},{"s":"Ag","w":1139,"i":5},{"s":"Ag","w":1160,"i":7},{"s":"Ag","w":1192,"i":8},{"s":"Ag","w":1218,"i":9},{"s":"Ag","w":1232,"i":11},{"s":"Ag","w":1239,"i":14},{"s":"Ag","w":1250,"i":16},{"s":"Ag","w":1265,"i":18},{"s":"Ag","w":1270,"i":23},{"s":"Ag","w":1273,"i":30},{"s":"Ag","w":1276,"i":42},{"s":"Ag","w":1279,"i":58},{"s":"Ag","w":1282,"i":80},{"s":"Ag","w":1284,"i":100},{"s":"Ag","w":1286,"i":115},{"s":"Ag","w":1288,"i":132},{"s":"Ag","w":1290,"i":142},{"s":"Ag","w":1292,"i":148},{"s":"Ag","w":1294,"i":148},{"s":"Ag","w":1296,"i":142},{"s":"Ag","w":1298,"i":132},{"s":"Ag","w":1300,"i":115},{"s":"Ag","w":1302,"i":98},{"s":"Ag","w":1305,"i":80},{"s":"Ag","w":1308,"i":60},{"s":"Ag","w":1312,"i":43},{"s":"Ag","w":1316,"i":34},{"s":"Ag","w":1320,"i":30},{"s":"Ag","w":1326,"i":28},{"s":"Ag","w":1332,"i":27},{"s":"Ag","w":1338,"i":26},{"s":"Ag","w":1343,"i":29},{"s":"Ag","w":1348,"i":33},{"s":"Ag","w":1353,"i":45},{"s":"Ag","w":1357,"i":56},{"s":"Ag","w":1361,"i":70},{"s":"Ag","w":1365,"i":86},{"s":"Ag","w":1368,"i":100},{"s":"Ag","w":1371,"i":107},{"s":"Ag","w":1374,"i":118},{"s":"Ag","w":1376,"i":128},{"s":"Ag","w":1378,"i":140},{"s":"Ag","w":1380,"i":141},{"s":"Ag","w":1382,"i":130},{"s":"Ag","w":1384,"i":110},{"s":"Ag","w":1386,"i":85},{"s":"Ag","w":1388,"i":62},{"s":"Ag","w":1391,"i":45},{"s":"Ag","w":1394,"i":36},{"s":"Ag","w":1399,"i":30},{"s":"Ag","w":1405,"i":27},{"s":"Ag","w":1415,"i":23},{"s":"Ag","w":1425,"i":20},{"s":"Ag","w":1432,"i":21},{"s":"Ag","w":1438,"i":24},{"s":"Ag","w":1444,"i":29},{"s":"Ag","w":1449,"i":34},{"s":"Ag","w":1453,"i":36},{"s":"Ag","w":1456,"i":31},{"s":"Ag","w":1460,"i":22},{"s":"Ag","w":1465,"i":17},{"s":"Ag","w":1475,"i":16},{"s":"Ag","w":1490,"i":16},{"s":"Ag","w":1505,"i":17},{"s":"Ag","w":1520,"i":19},{"s":"Ag","w":1531,"i":21},{"s":"Ag","w":1540,"i":27},{"s":"Ag","w":1547,"i":33},{"s":"Ag","w":1552,"i":42},{"s":"Ag","w":1557,"i":55},{"s":"Ag","w":1561,"i":75},{"s":"Ag","w":1564,"i":96},{"s":"Ag","w":1566,"i":125},{"s":"Ag","w":1568,"i":145},{"s":"Ag","w":1570,"i":155},{"s":"Ag","w":1572,"i":160},{"s":"Ag","w":1574,"i":157},{"s":"Ag","w":1576,"i":142},{"s":"Ag","w":1578,"i":125},{"s":"Ag","w":1580,"i":107},{"s":"Ag","w":1583,"i":88},{"s":"Ag","w":1587,"i":75},{"s":"Ag","w":1591,"i":63},{"s":"Ag","w":1596,"i":53},{"s":"Ag","w":1601,"i":46},{"s":"Ag","w":1607,"i":40},{"s":"Ag","w":1612,"i":35},{"s":"Ag","w":1617,"i":29},{"s":"Ag","w":1621,"i":25},{"s":"Ag","w":1625,"i":22},{"s":"Ag","w":1636,"i":20},{"s":"Ag","w":1648,"i":18},{"s":"Ag","w":1670,"i":18},{"s":"Ag","w":1688,"i":18},{"s":"Ag","w":1695,"i":19},{"s":"Ag","w":1702,"i":18},{"s":"Ag","w":1710,"i":16},{"s":"Ag","w":1725,"i":15},{"s":"Ag","w":1744,"i":14}
],
"ra":[{"w":1294,"i":452,"i2":132},{"w":1372,"i":470,"i2":123},{"w":1569,"i":457,"i2":103},{"w":1586,"i":430,"i2":90}],
"rb":[{"w":1294,"i":466,"i2":149},{"w":1368.5,"i":471,"i2":113},{"w":1380,"i":444,"i2":91},{"w":1567,"i":448,"i2":96},{"w":1579.5,"i":439,"i2":118}],
"ta":[
{"k":"title","t":"(a) PTCD-COOH","w":1007.8,"i":468},
{"k":"note","t":"Laser\u00a0 514,5 nm","w":1007.8,"i":420},
{"k":"peak","t":"1294","w":1283.5,"i":468},
{"k":"peak","t":"1372","w":1398.6,"i":468},
{"k":"peak","t":"1567","w":1540.7,"i":460},
{"k":"peak","t":"1302","w":1324.2,"i":325},
{"k":"peak","t":"1376","w":1405.2,"i":238},
{"k":"peak","t":"1571","w":1533.7,"i":238},
{"k":"peak","t":"1587","w":1599.8,"i":255},
{"k":"peak","t":"1611","w":1627.6,"i":215},
{"k":"sample","t":"pó","w":1087.7,"i":347},
{"k":"sample","t":"Filme PVD 10nm","w":1136.3,"i":244},
{"k":"sample","t":"Filme PVD 150nm","w":1134.7,"i":148},
{"k":"sample","t":"Filme PVD 10nm sobre 6nm Ag","w":1133.1,"i":37}
],
"tb":[
{"k":"title","t":"(b) PTCD-NH₂","w":1007.8,"i":471},
{"k":"note","t":"Laser\u00a0 514,5 nm","w":1007.8,"i":421},
{"k":"peak","t":"1293","w":1265.5,"i":469},
{"k":"peak","t":"1371","w":1393.5,"i":474},
{"k":"peak","t":"1567","w":1546.2,"i":461},
{"k":"peak","t":"1580","w":1602.2,"i":453},
{"k":"peak","t":"1298","w":1328.1,"i":313},
{"k":"peak","t":"1572","w":1546.2,"i":306},
{"k":"peak","t":"1587","w":1615.5,"i":296},
{"k":"peak","t":"1380","w":1409.2,"i":103},
{"k":"sample","t":"pó","w":1087.7,"i":349},
{"k":"sample","t":"Filme PVD 10nm","w":1136.3,"i":234},
{"k":"sample","t":"Filme PVD 150nm","w":1134.7,"i":133},
{"k":"sample","t":"Filme PVD 10nm sobre 6nm Ag","w":1137,"i":34}
]
},
"vconcat":[
{
"width":950,"height":489,
"encoding":{
"x":{"field":"w","type":"quantitative","scale":{"domain":[1000,1744],"nice":false,"zero":false},
"axis":{"values":[1100,1200,1300,1400,1500,1600,1700],"format":"d","grid":false,"ticks":false,"tickSize":0,"labelPadding":14,"labelFont":"Liberation Serif","labelFontSize":15,"labelColor":"black","domainColor":"#222","title":"Número de onda (cm⁻¹)","titleFont":"Liberation Serif","titleFontSize":25,"titleFontWeight":"normal","titleColor":"black","titleX":434,"titleY":79,"titleBaseline":"middle"}},
"y":{"field":"i","type":"quantitative","scale":{"domain":[0,489],"nice":false,"zero":false},
"axis":{"labels":false,"ticks":false,"grid":false,"domainColor":"#777","title":"Intensidade normalizada","titleFont":"Liberation Serif","titleFontSize":25,"titleFontWeight":"normal","titleColor":"black","titlePadding":20,"titleY":262}}
},
"layer":[
{"data":{"name":"a"},"mark":{"type":"line","strokeWidth":2.8,"clip":true},"encoding":{"color":{"field":"s","type":"nominal","scale":{"domain":["pó","10nm","150nm","Ag"],"range":["#b0004f","#d6005a","#ff0066","#ff3388"]},"legend":null}}},
{"data":{"name":"ra"},"mark":{"type":"rule","strokeDash":[4,3],"color":"#222","strokeWidth":1},"encoding":{"y2":{"field":"i2"}}},
{"data":{"name":"ta"},"transform":[{"filter":"datum.k==='peak'"}],"mark":{"type":"text","fontSize":24,"align":"center","baseline":"middle","font":"Liberation Serif","color":"black"},"encoding":{"text":{"field":"t"}}},
{"data":{"name":"ta"},"transform":[{"filter":"datum.k==='sample'"}],"mark":{"type":"text","fontSize":25,"fontWeight":"bold","align":"center","baseline":"middle","font":"Liberation Serif","color":"black"},"encoding":{"text":{"field":"t"}}},
{"data":{"name":"ta"},"transform":[{"filter":"datum.k==='title'"}],"mark":{"type":"text","fontSize":25,"fontWeight":"bold","align":"left","baseline":"middle","font":"Liberation Serif","color":"black"},"encoding":{"text":{"field":"t"}}},
{"data":{"name":"ta"},"transform":[{"filter":"datum.k==='note'"}],"mark":{"type":"text","fontSize":25,"align":"left","baseline":"middle","font":"Liberation Serif","color":"black"},"encoding":{"text":{"field":"t"}}}
]
},
{
"width":950,"height":489,
"encoding":{
"x":{"field":"w","type":"quantitative","scale":{"domain":[1000,1744],"nice":false,"zero":false},
"axis":{"values":[1100,1200,1300,1400,1500,1600,1700],"format":"d","grid":false,"ticks":true,"tickSize":6,"tickColor":"#222","labelPadding":12,"labelFont":"Liberation Serif","labelFontSize":15,"labelColor":"black","domainColor":"#222","title":"Número de onda (cm⁻¹)","titleFont":"Liberation Serif","titleFontSize":25,"titleFontWeight":"normal","titleColor":"black","titleX":434,"titleY":84,"titleBaseline":"middle"}},
"y":{"field":"i","type":"quantitative","scale":{"domain":[0,489],"nice":false,"zero":false},
"axis":{"labels":false,"ticks":false,"grid":false,"domainColor":"#777","title":"Intensidade normalizada","titleFont":"Liberation Serif","titleFontSize":25,"titleFontWeight":"normal","titleColor":"black","titlePadding":20,"titleY":262}}
},
"layer":[
{"data":{"name":"b"},"mark":{"type":"line","strokeWidth":2.8,"clip":true},"encoding":{"color":{"field":"s","type":"nominal","scale":{"domain":["pó","10nm","150nm","Ag"],"range":["#800080","#990099","#a600a6","#ff00ff"]},"legend":null}}},
{"data":{"name":"rb"},"mark":{"type":"rule","strokeDash":[4,3],"color":"#222","strokeWidth":1},"encoding":{"y2":{"field":"i2"}}},
{"data":{"name":"tb"},"transform":[{"filter":"datum.k==='peak'"}],"mark":{"type":"text","fontSize":24,"align":"center","baseline":"middle","font":"Liberation Serif","color":"black"},"encoding":{"text":{"field":"t"}}},
{"data":{"name":"tb"},"transform":[{"filter":"datum.k==='sample'"}],"mark":{"type":"text","fontSize":25,"fontWeight":"bold","align":"center","baseline":"middle","font":"Liberation Serif","color":"black"},"encoding":{"text":{"field":"t"}}},
{"data":{"name":"tb"},"transform":[{"filter":"datum.k==='title'"}],"mark":{"type":"text","fontSize":25,"fontWeight":"bold","align":"left","baseline":"middle","font":"Liberation Serif","color":"black"},"encoding":{"text":{"field":"t"}}},
{"data":{"name":"tb"},"transform":[{"filter":"datum.k==='note'"}],"mark":{"type":"text","fontSize":25,"align":"left","baseline":"middle","font":"Liberation Serif","color":"black"},"encoding":{"text":{"field":"t"}}}
]
}
]
}
